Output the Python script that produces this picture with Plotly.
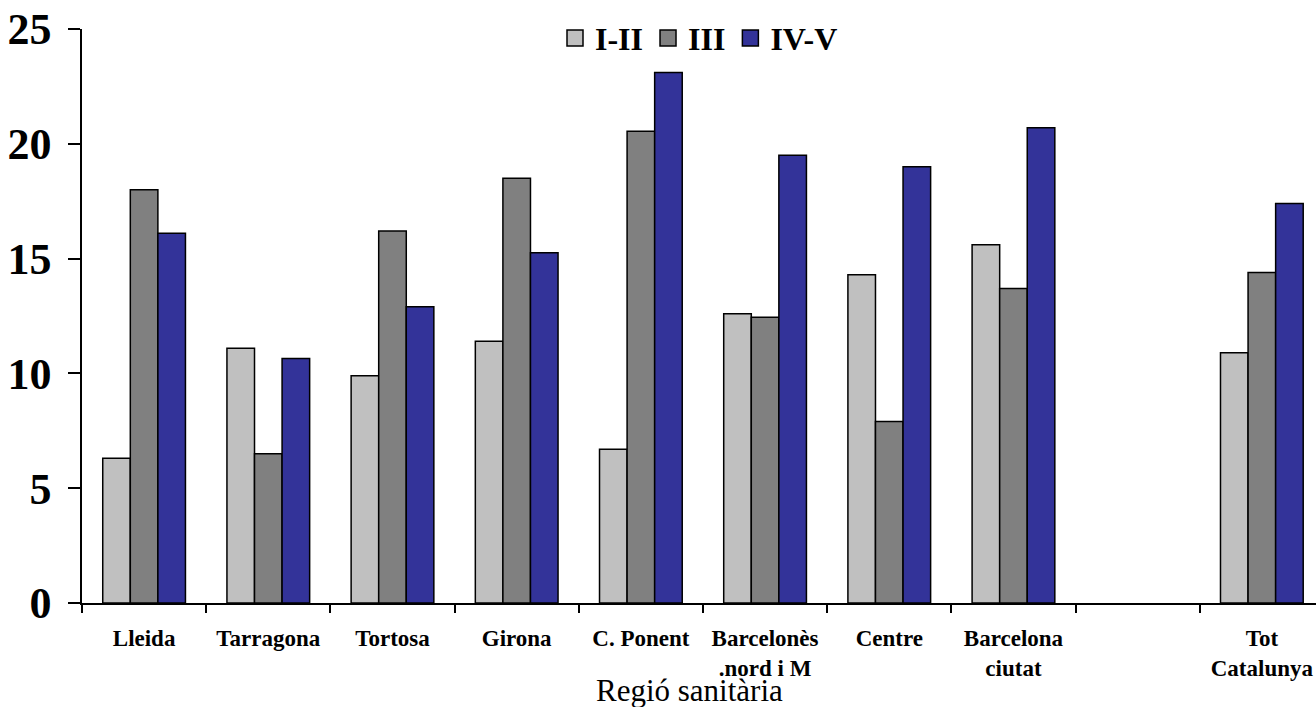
import plotly.graph_objects as go

# Health regions (one empty slot before the Catalonia total)
regions = ["Lleida", "Tarragona", "Tortosa", "Girona", "C. Ponent",
           "Barcelonès<br>.nord i M", "Centre", "Barcelona<br>ciutat", " ",
           "Tot<br>Catalunya"]

# Values per social class group
class_I_II = [6.3, 11.1, 9.9, 11.4, 6.7, 12.6, 14.3, 15.6, None, 10.9]
class_III = [18.0, 6.5, 16.2, 18.5, 20.55, 12.45, 7.9, 13.7, None, 14.4]
class_IV_V = [16.1, 10.65, 12.9, 15.25, 23.1, 19.5, 19.0, 20.7, None, 17.4]

series_names = ["I-II", "III", "IV-V"]
series_colors = ["#C0C0C0", "#808080", "#333399"]
series_values = [class_I_II, class_III, class_IV_V]

y_ticks = [0, 5, 10, 15, 20, 25]

serif = "Liberation Serif, Times New Roman, serif"

fig = go.Figure()

for name, color, vals in zip(series_names, series_colors, series_values):
    fig.add_trace(go.Bar(
        x=regions, y=vals, name=name,
        marker=dict(color=color, line=dict(color="black", width=1.5)),
        showlegend=False,
    ))

# Legend entries with large square swatches
for name, color in zip(series_names, series_colors):
    fig.add_trace(go.Scatter(
        x=[None], y=[None], mode="markers", name=name,
        marker=dict(symbol="square", size=22, color=color,
                    line=dict(color="black", width=1.5)),
        showlegend=True,
    ))

fig.update_layout(
    width=1316, height=707,
    margin=dict(l=82, r=0, t=29, b=104),
    paper_bgcolor="white", plot_bgcolor="white",
    barmode="group", bargap=0.334, bargroupgap=0,
    font=dict(family=serif, color="black"),
    showlegend=True,
    legend=dict(
        orientation="h", x=0.5, xanchor="center", y=0.984, yanchor="middle",
        font=dict(family=serif, size=32, color="black", weight="bold"),
        bgcolor="rgba(0,0,0,0)", borderwidth=0,
    ),
    xaxis=dict(
        type="category", categoryorder="array", categoryarray=regions,
        range=[-0.5, 9.436],
        showline=True, linecolor="black", linewidth=1.5,
        ticks="outside", tickson="boundaries", ticklen=8, tickwidth=1.5,
        tickcolor="black",
        tickfont=dict(family=serif, size=23, color="black", weight="bold"),
        ticklabelstandoff=14,
        showgrid=False, zeroline=False, fixedrange=True,
    ),
    yaxis=dict(
        range=[0, 25], tickvals=y_ticks,
        showline=True, linecolor="black", linewidth=1.5,
        ticks="outside", ticklen=12, tickwidth=1.5, tickcolor="black",
        tickfont=dict(family=serif, size=44, color="black", weight="bold"),
        ticklabelstandoff=8,
        showgrid=False, zeroline=False, fixedrange=True,
    ),
    annotations=[dict(
        text="Regió sanitària", xref="paper", yref="paper",
        x=(689 - 82) / 1234, y=-0.152, xanchor="center", yanchor="middle",
        showarrow=False, font=dict(family=serif, size=31, color="black"),
    )],
)

fig.write_html("out.html", config={"displayModeBar": False})
